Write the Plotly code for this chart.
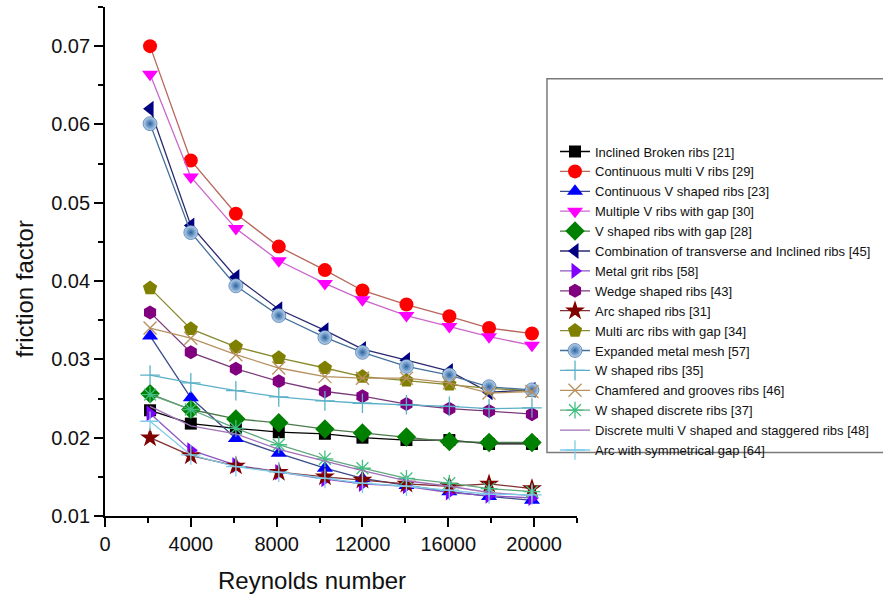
import plotly.graph_objects as go

# Reynolds numbers
re = [2100, 4000, 6100, 8100, 10250, 12000, 14050, 16050, 17900, 19900]

inclined_broken = [0.0235, 0.0218, 0.0212, 0.0207, 0.0205, 0.0200, 0.0197, 0.0197, 0.0192, 0.0192]
cont_multi_v = [0.0700, 0.0554, 0.0486, 0.0444, 0.0414, 0.0388, 0.0370, 0.0355, 0.0340, 0.0333]
cont_v = [0.0330, 0.0251, 0.0199, 0.0180, 0.0161, 0.0148, 0.0139, 0.0131, 0.0125, 0.0120]
multiple_v_gap = [0.0664, 0.0533, 0.0467, 0.0426, 0.0397, 0.0376, 0.0356, 0.0342, 0.0329, 0.0318]
v_gap = [0.0256, 0.0236, 0.0224, 0.0219, 0.0211, 0.0206, 0.0201, 0.0195, 0.0194, 0.0194]
combination = [0.0620, 0.0471, 0.0405, 0.0364, 0.0337, 0.0313, 0.0299, 0.0285, 0.0258, 0.0261]
metal_grit = [0.0231, 0.0184, 0.0165, 0.0156, 0.0147, 0.0141, 0.0138, 0.0130, 0.0126, 0.0123]
wedge = [0.0360, 0.0309, 0.0288, 0.0272, 0.0259, 0.0253, 0.0243, 0.0237, 0.0234, 0.0230]
arc = [0.0200, 0.0177, 0.0164, 0.0156, 0.0150, 0.0146, 0.0141, 0.0138, 0.0141, 0.0135]
multi_arc_gap = [0.0391, 0.0339, 0.0316, 0.0302, 0.0289, 0.0278, 0.0273, 0.0268, 0.0263, 0.0260]
metal_mesh = [0.0601, 0.0462, 0.0394, 0.0356, 0.0328, 0.0309, 0.0291, 0.0280, 0.0265, 0.0261]
w_shaped = [0.0280, 0.0270, 0.0260, 0.0252, 0.0247, 0.0244, 0.0242, 0.0240, 0.0237, 0.0238]
chamfered = [0.0340, 0.0327, 0.0306, 0.0289, 0.0278, 0.0276, 0.0276, 0.0270, 0.0257, 0.0259]
w_discrete = [0.0255, 0.0236, 0.0212, 0.0191, 0.0173, 0.0161, 0.0148, 0.0142, 0.0135, 0.0131]
discrete_multi_v = [0.0240, 0.0215, 0.0205, 0.0185, 0.0170, 0.0158, 0.0145, 0.0138, 0.0130, 0.0126]
arc_sym_gap = [0.0221, 0.0178, 0.0163, 0.0156, 0.0148, 0.0142, 0.0138, 0.0133, 0.0128, 0.0127]

x_ticks = [0, 4000, 8000, 12000, 16000, 20000]
y_ticks = [0.01, 0.02, 0.03, 0.04, 0.05, 0.06, 0.07]

series = [
    ("Inclined Broken ribs [21]", inclined_broken, "square", "#000000", "#000000", 12),
    ("Continuous multi V ribs [29]", cont_multi_v, "circle", "#ff0000", "#b8665a", 14),
    ("Continuous V shaped ribs [23]", cont_v, "triangle-up", "#0000ff", "#3a4a8a", 14),
    ("Multiple V ribs with gap [30]", multiple_v_gap, "triangle-down", "#ff00ff", "#cc66cc", 14),
    ("V shaped ribs with gap [28]", v_gap, "diamond", "#008000", "#4a7a4a", 15),
    ("Combination of transverse and Inclined ribs [45]", combination, "triangle-left", "#000080", "#2a2a70", 14),
    ("Metal grit ribs [58]", metal_grit, "triangle-right", "#8000ff", "#8a55c0", 14),
    ("Wedge shaped ribs [43]", wedge, "hexagon", "#800080", "#7a3a7a", 14),
    ("Arc shaped ribs [31]", arc, "star", "#800000", "#803030", 15),
    ("Multi arc ribs with gap [34]", multi_arc_gap, "pentagon", "#808000", "#8a8a30", 15),
    ("Expanded metal mesh [57]", metal_mesh, "circle", "#3a75b5", "#45709a", 14),
    ("W shaped ribs [35]", w_shaped, "cross-thin", "#5ab0c8", "#5ab0c8", 14),
    ("Chamfered and grooves ribs [46]", chamfered, "x-thin", "#b89060", "#b89060", 13),
    ("W shaped discrete ribs [37]", w_discrete, "asterisk", "#40c080", "#60a880", 14),
    ("Discrete multi V shaped and staggered ribs [48]", discrete_multi_v, None, "#a070b8", "#a070b8", 0),
    ("Arc with symmetrical gap [64]", arc_sym_gap, "cross-thin", "#80cce8", "#80cce8", 14),
]

fig = go.Figure()
for name, vals, sym, mcol, lcol, size in series:
    if sym is None:
        fig.add_trace(go.Scatter(x=re, y=vals, name=name, mode="lines",
                                 line=dict(color=lcol, width=1.3)))
        continue
    marker = dict(symbol=sym, size=size, color=mcol)
    if sym.endswith("-thin") or sym == "asterisk":
        marker["line"] = dict(color=mcol, width=1.3)
    if name.startswith("Expanded"):
        marker = dict(symbol="circle", size=size, color="#bcd6ef",
                      gradient=dict(type="radial", color="#2b62a0"),
                      line=dict(color="#2b5f98", width=0.6))
    fig.add_trace(go.Scatter(x=re, y=vals, name=name, mode="lines+markers",
                             line=dict(color=lcol, width=1.3), marker=marker))

font = "Liberation Sans, Arial, sans-serif"

# plot area in pixels: x 105..577, y 7..516
fig.update_layout(
    width=883, height=598,
    margin=dict(l=105, r=306, t=7, b=82, autoexpand=False),
    paper_bgcolor="white", plot_bgcolor="white",
    font=dict(family=font, color="#111111"),
    showlegend=True,
    legend=dict(x=0.9534, xanchor="left", y=0.4223, yanchor="middle",
                font=dict(size=13, family=font, color="#111111"),
                bgcolor="rgba(0,0,0,0)", borderwidth=0, tracegroupgap=0),
    shapes=[dict(type="rect", xref="paper", yref="paper",
                 x0=0.9364, x1=1.70, y0=0.125, y1=0.859,
                 line=dict(color="#7a7a7a", width=1.5), layer="below")],
    annotations=[
        dict(text="Reynolds number", xref="paper", yref="paper", x=0.4396, y=-0.1265,
             xanchor="center", yanchor="middle", showarrow=False,
             font=dict(size=24, family=font, color="#111111")),
        dict(text="friction factor", xref="paper", yref="paper", x=-0.1716, y=0.445,
             xanchor="center", yanchor="middle", textangle=-90, showarrow=False,
             font=dict(size=24, family=font, color="#111111")),
    ],
)

fig.update_xaxes(range=[0, 22000], tickvals=x_ticks, tickformat="d",
                 ticks="outside", ticklen=9, tickwidth=1.5, tickcolor="black",
                 showline=True, linecolor="black", linewidth=1.8, showgrid=False,
                 zeroline=False, tickfont=dict(size=20, family=font, color="#111111"),
                 minor=dict(dtick=2000, tick0=0, ticks="outside", ticklen=5, tickwidth=1.5,
                            tickcolor="black", showgrid=False))
fig.update_yaxes(range=[0.01, 0.075], tickvals=y_ticks, tickformat=".2f",
                 ticks="outside", ticklen=9, tickwidth=1.5, tickcolor="black",
                 showline=True, linecolor="black", linewidth=1.8, showgrid=False,
                 zeroline=False, tickfont=dict(size=20, family=font, color="#111111"),
                 minor=dict(dtick=0.005, tick0=0.0, ticks="outside", ticklen=5, tickwidth=1.5,
                            tickcolor="black", showgrid=False))

fig.write_html("out.html", config={"displayModeBar": False},
               post_script="document.body.style.margin='0px';document.body.style.overflow='hidden';")
